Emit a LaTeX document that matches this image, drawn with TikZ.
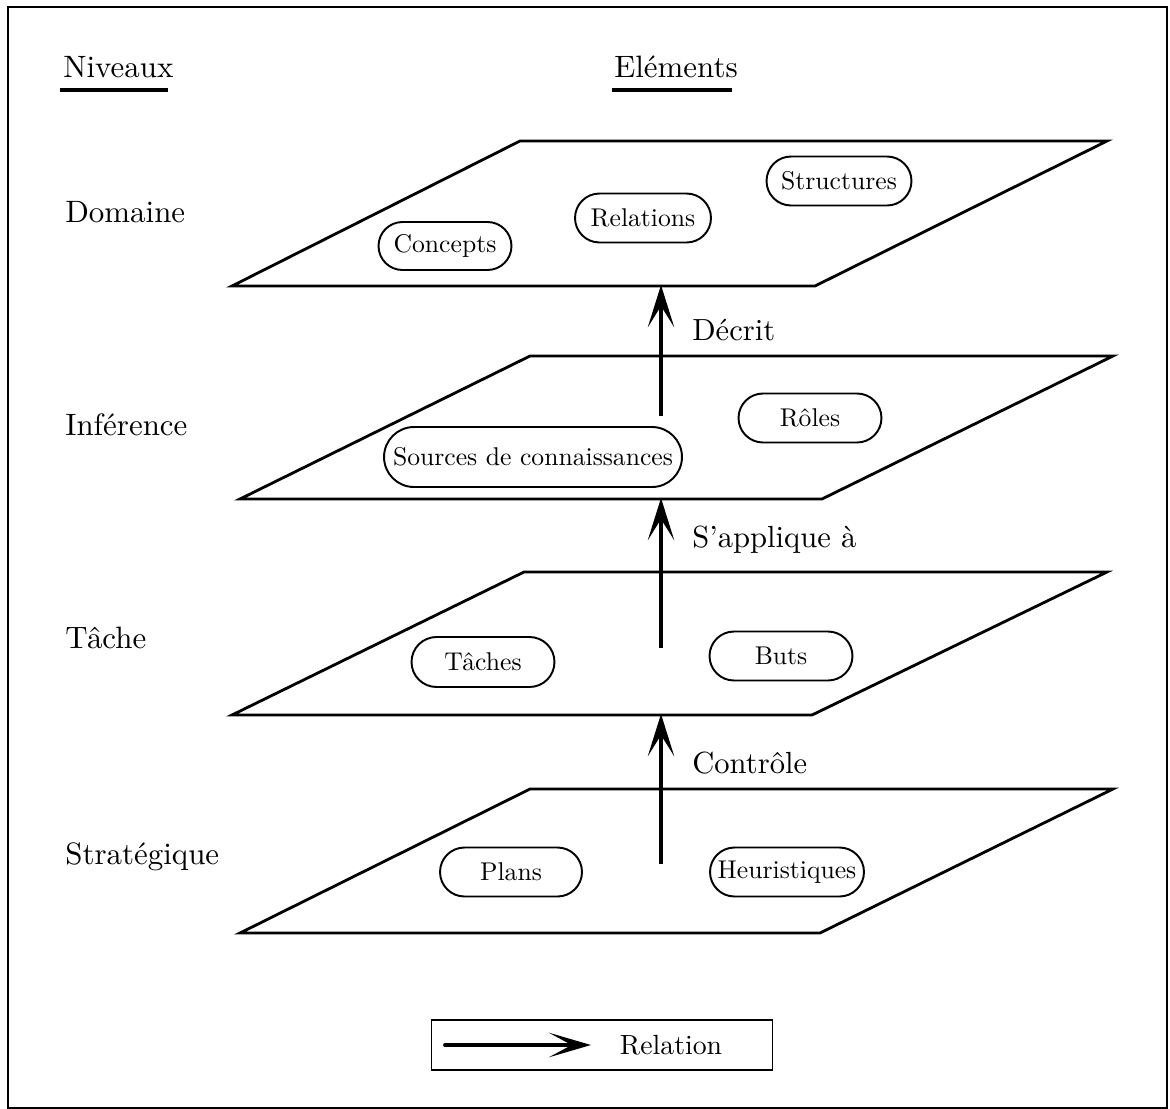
\documentclass[tikz,border=0pt]{standalone}
\usepackage{fontspec}
\setmainfont{lmroman10-regular.otf}
\usetikzlibrary{shapes.misc,arrows.meta}
\begin{document}
\begin{tikzpicture}[x=0.02cm,y=-0.02cm,
  plane/.style={line width=1.6pt,line join=miter},
  lvl/.style={anchor=west,inner sep=0pt,font=\fontsize{17.6}{21}\selectfont},
  rel/.style={anchor=west,inner sep=0pt,font=\fontsize{17.4}{21}\selectfont},
  elem/.style={draw,line width=1.1pt,rounded rectangle,inner sep=0pt,font=\fontsize{14.6}{17}\selectfont},
  uparrow/.style={line width=2.4pt,-{Stealth[length=24pt,width=15pt,inset=12pt]}},
  uline/.style={line width=2.4pt}]
\useasboundingbox (0,0) rectangle (1170,1109);
\draw[line width=0.6pt] (8,7) rectangle (1167,1108);
% headers
\node[lvl] (niv) at (63,67) {Niveaux};
\node[font=\fontsize{17.6}{21}\selectfont,inner sep=0pt] (elm) at (676,67) {Eléments};
\coordinate (nivA) at (60,90); \coordinate (nivB) at (168,90);
\coordinate (elmA) at (612,90); \coordinate (elmB) at (732,90);
\draw[uline] (nivA) -- (nivB);
\draw[uline] (elmA) -- (elmB);
% level labels
\node[lvl] (ldom) at (65,212) {Domaine};
\node[lvl] (linf) at (65,425) {Inférence};
\node[lvl] (ltac) at (65,638) {Tâche};
\node[lvl] (lstr) at (65,857) {Stratégique};
% planes
\draw[plane] (232,286) -- (520,141) -- (1107,141) -- (815,286) -- cycle;
\draw[plane] (240,499) -- (530,356) -- (1113,356) -- (822,499) -- cycle;
\draw[plane] (232,715) -- (524,572) -- (1107,572) -- (812,715) -- cycle;
\draw[plane] (240,933) -- (530,789) -- (1113,789) -- (820,933) -- cycle;
% elements
\node[elem,minimum width=2.66cm,minimum height=0.96cm] (concepts) at (445,246) {Concepts};
\node[elem,minimum width=2.72cm,minimum height=0.98cm] (relations) at (643,218) {Relations};
\node[elem,minimum width=2.9cm,minimum height=0.98cm] (structures) at (839,181) {Structures};
\node[elem,minimum width=5.96cm,minimum height=1.2cm] (sources) at (533,457) {Sources de connaissances};
\node[elem,minimum width=2.86cm,minimum height=0.98cm] (roles) at (810,418) {Rôles};
\node[elem,minimum width=2.86cm,minimum height=1.0cm] (taches) at (483,662) {Tâches};
\node[elem,minimum width=2.86cm,minimum height=0.98cm] (buts) at (781,656) {Buts};
\node[elem,minimum width=2.84cm,minimum height=0.98cm] (plans) at (511,872) {Plans};
\node[elem,minimum width=3.08cm,minimum height=0.98cm] (heur) at (787,872) {Heuristiques};
% arrows
\coordinate (a1s) at (661,416); \coordinate (a1e) at (661,285);
\coordinate (a2s) at (661,648); \coordinate (a2e) at (661,498);
\coordinate (a3s) at (661,864); \coordinate (a3e) at (661,714);
\draw[uparrow] (a1s) -- (a1e);
\draw[uparrow] (a2s) -- (a2e);
\draw[uparrow] (a3s) -- (a3e);
\node[rel] (decrit) at (692,330) {Décrit};
\node[rel] (sappl) at (692,540) {S'applique à};
\node[rel] (ctrl) at (692,763) {Contrôle};
% legend
\node[draw,line width=1pt,minimum width=6.82cm,minimum height=1.0cm,inner sep=0pt] (legend) at (602,1045) {};
\coordinate (lgA) at (445,1045); \coordinate (lgB) at (591,1045);
\draw[line width=2.2pt,line cap=round,-{Stealth[length=24pt,width=14pt,inset=13pt]}] (lgA) -- (lgB);
\node[font=\fontsize{15.8}{19}\selectfont,inner sep=0pt] (lgtxt) at (671,1045) {Relation};
\end{tikzpicture}
\end{document}
